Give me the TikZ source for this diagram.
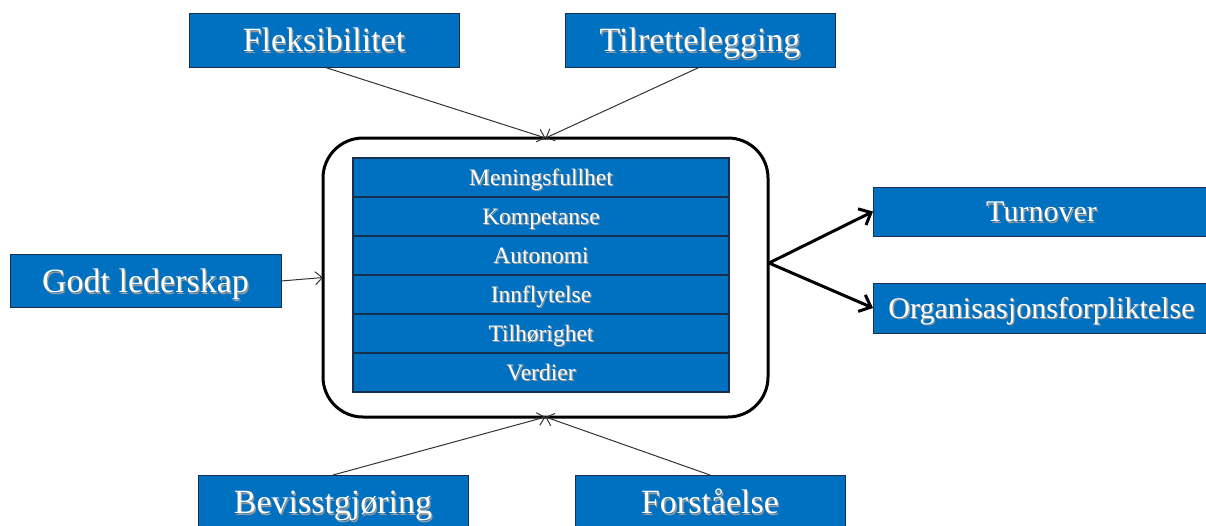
\documentclass[tikz,border=0pt]{standalone}
\usepackage{fontspec}
\setmainfont{Liberation Serif}
\usetikzlibrary{arrows.meta}
\definecolor{boxblue}{HTML}{0070C0}
\definecolor{boxedge}{HTML}{17304F}
\newcommand{\shd}[1]{\rlap{\hspace{1.3pt}\raisebox{-1.3pt}{\textcolor{black!40}{#1}}}#1}
\tikzset{
  bluebox/.style={draw=boxedge, line width=0.9pt, fill=boxblue, text=white,
    inner sep=0pt, outer sep=0pt, anchor=center},
  bigfont/.style={font=\fontsize{34}{38}\selectfont, text height=23.5pt, text depth=0pt},
  midfont/.style={font=\fontsize{30}{34}\selectfont, text height=20.7pt, text depth=0pt},
  rowfont/.style={font=\fontsize{23.5}{26}\selectfont, text height=16.2pt, text depth=0pt},
  rowbox/.style={bluebox, rowfont, line width=1.3pt, minimum width=376pt, minimum height=39pt},
  thin arrow/.style={draw=black!80, line width=1pt,
    -{Straight Barb[length=7pt,width=13pt,line width=1pt]}},
  thick arrow/.style={draw=black, line width=3pt,
    -{Straight Barb[length=10pt,width=18pt,line width=3pt]}},
}
\begin{document}
\begin{tikzpicture}[x=1pt,y=-1pt]
\useasboundingbox (0,0) rectangle (1206,525);

% outer frame around the six factors
\node[draw=black, line width=3pt, rounded corners=40pt, minimum width=445pt,
  minimum height=279pt, inner sep=0pt, outer sep=0pt] (big) at (545.5,277.5) {};

% the six factors
\foreach \n/\t [count=\k from 0] in {r1/Meningsfullhet, r2/Kompetanse, r3/Autonomi,
    r4/Innflytelse, r5/Tilhørighet, r6/Verdier}
  \node[rowbox] (\n) at (541,{177.5+39*\k}) {\shd{\t}};

% input boxes
\node[bluebox, bigfont, minimum width=270pt, minimum height=54pt] (flek) at (324,40) {\shd{Fleksibilitet}};
\node[bluebox, bigfont, minimum width=270pt, minimum height=54pt] (tilr) at (700,40) {\shd{Tilrettelegging}};
\node[bluebox, bigfont, minimum width=271pt, minimum height=53pt] (godt) at (145.5,281) {\shd{Godt lederskap}};
\node[bluebox, bigfont, minimum width=270pt, minimum height=54pt] (bev) at (333,502) {\shd{Bevisstgjøring}};
\node[bluebox, bigfont, minimum width=270pt, minimum height=54pt] (fors) at (710,502) {\shd{Forståelse}};

% outcome boxes
\node[bluebox, midfont, minimum width=337pt, minimum height=49pt] (turn) at (1041.5,211.5) {\shd{Turnover}};
\node[bluebox, midfont, minimum width=337pt, minimum height=50pt] (org) at (1041.5,308) {\shd{Organisasjonsforpliktelse}};

% connectors
\coordinate (split) at (769,263);
\draw[thin arrow] (flek.south) -- (big.north);
\draw[thin arrow] (tilr.south) -- (big.north);
\draw[thin arrow] (godt.east) -- (big.west);
\draw[thin arrow] (bev.north) -- (big.south);
\draw[thin arrow] (fors.north) -- (big.south);
\draw[thick arrow] (split) -- (turn.west);
\draw[thick arrow] (split) -- (org.west);
\end{tikzpicture}
\end{document}
